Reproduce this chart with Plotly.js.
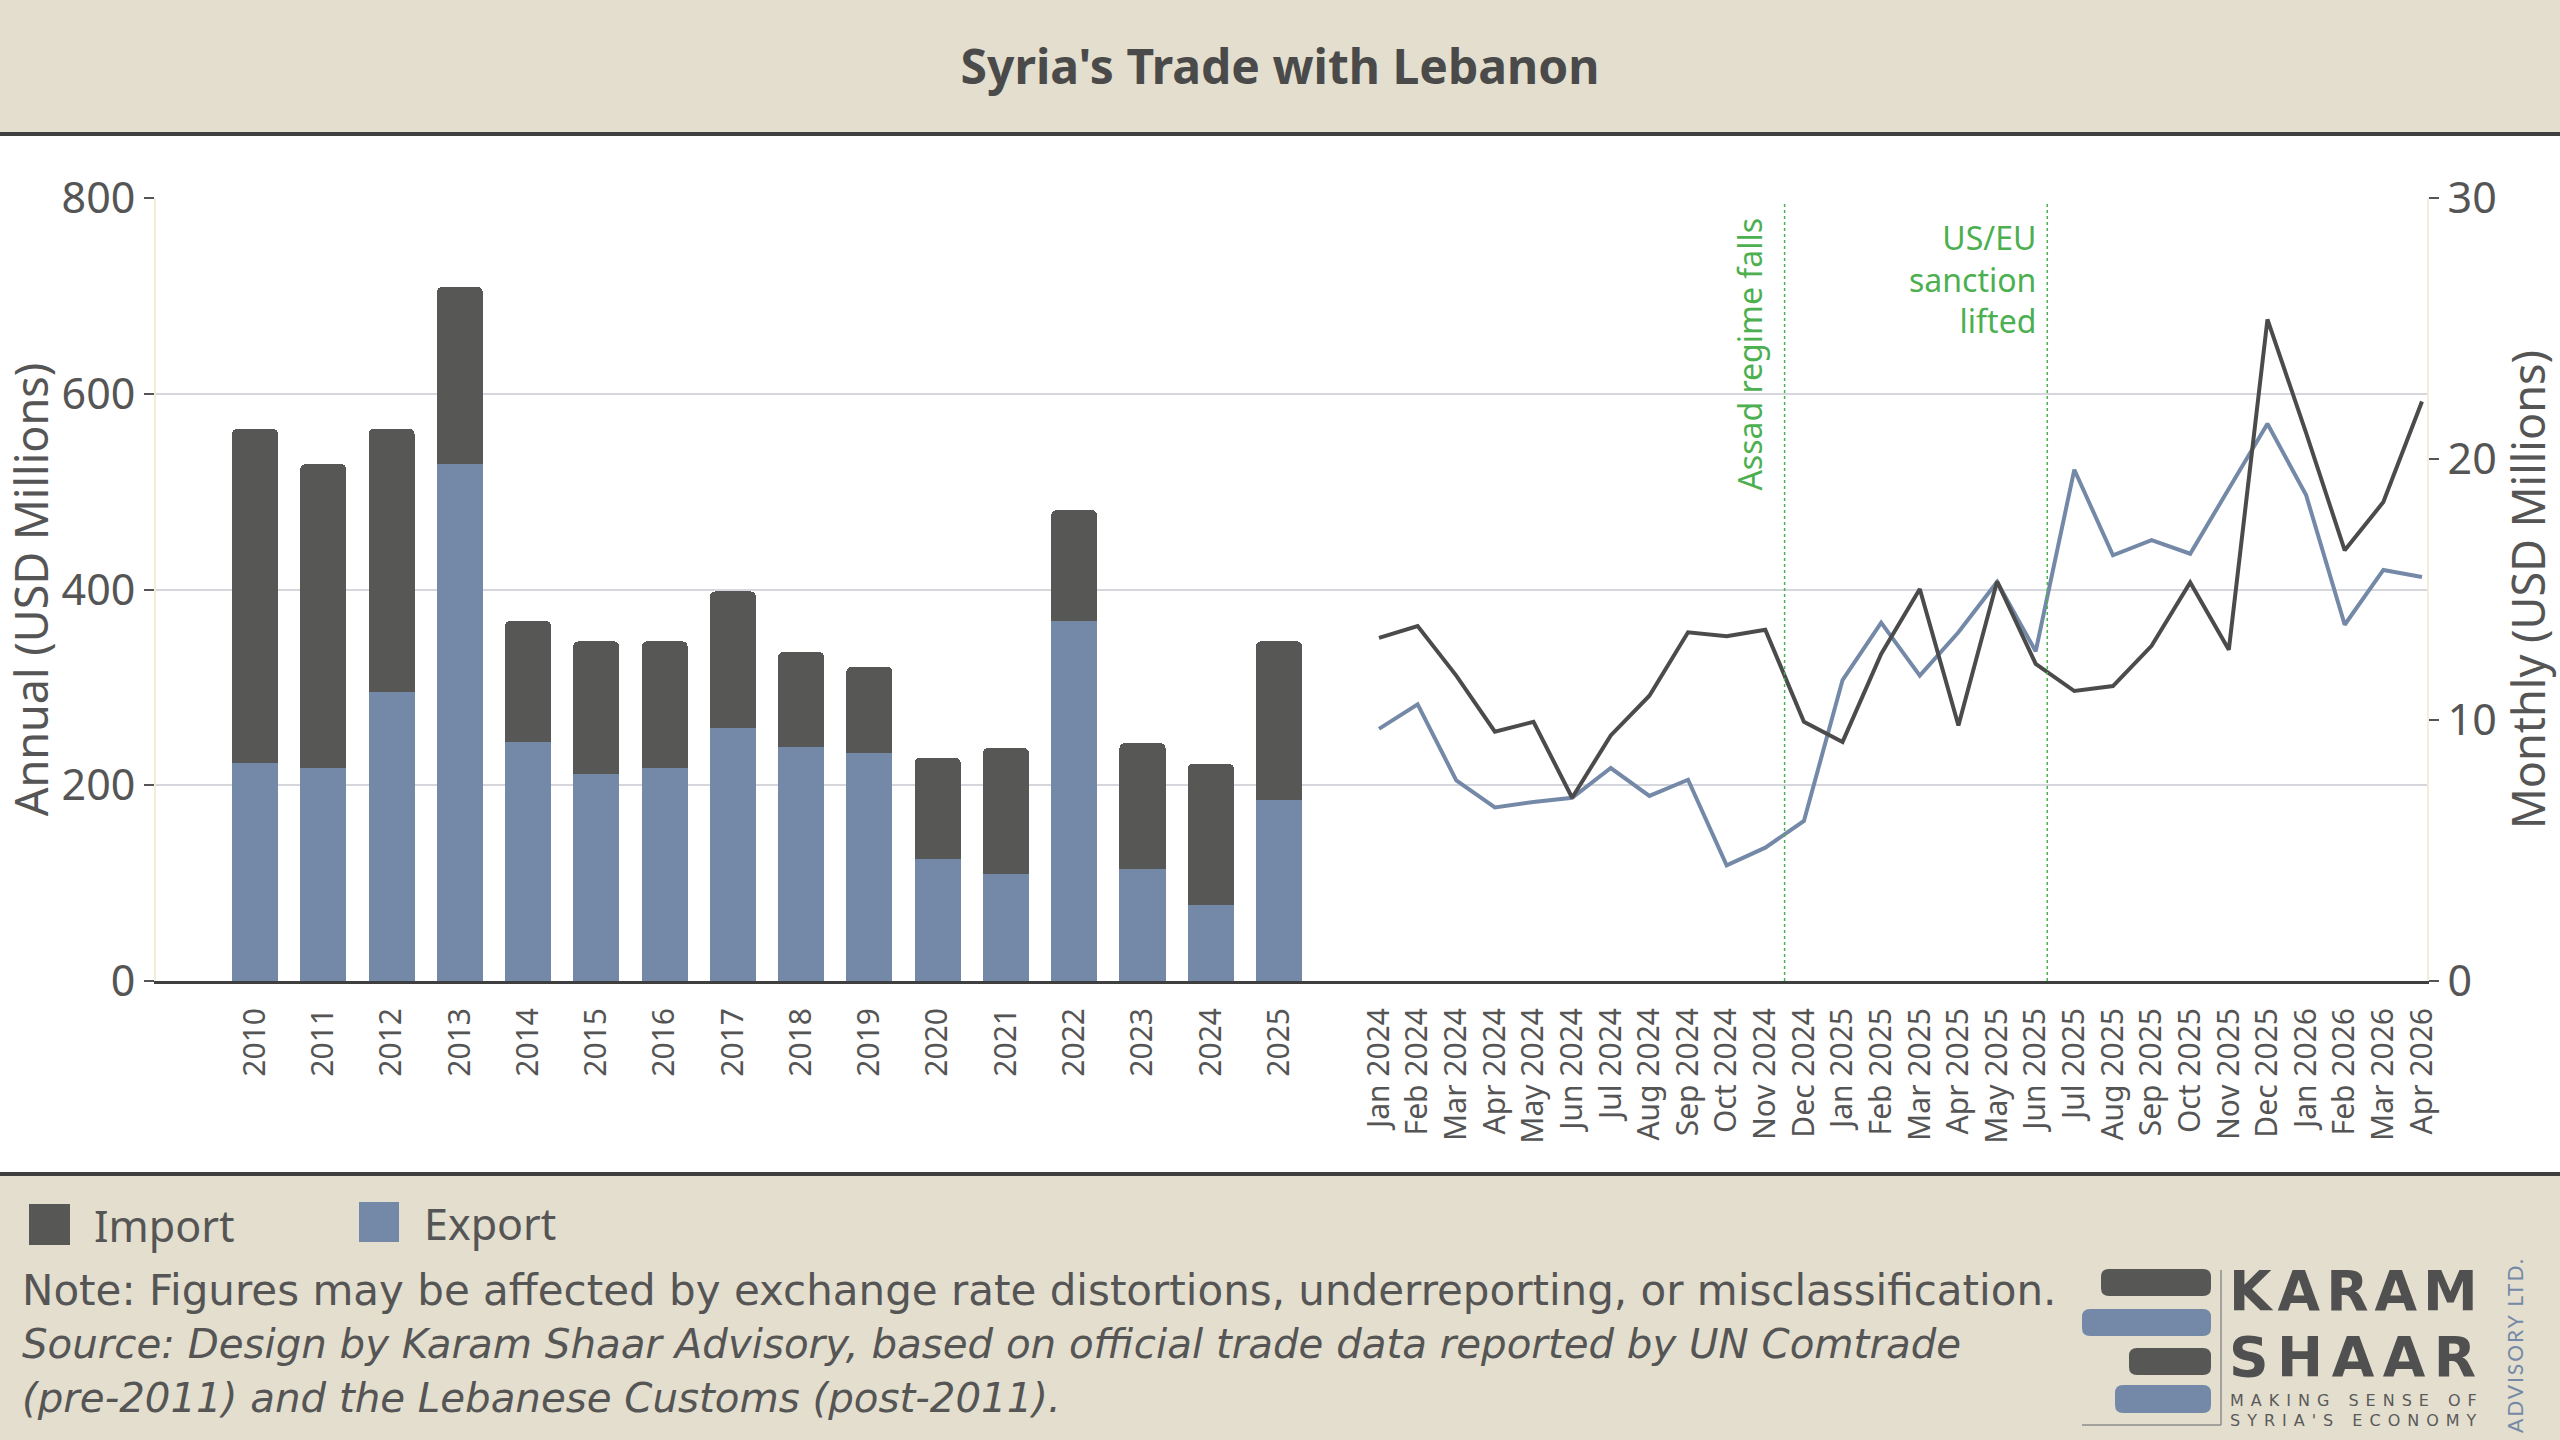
<!DOCTYPE html>
<html>
<head>
<meta charset="utf-8">
<script src="https://cdn.plot.ly/plotly-3.0.1.min.js"></script>
<style>
  html, body { margin: 0; padding: 0; background: #ffffff; }
  #chart { width: 2560px; height: 1440px; }
</style>
</head>
<body>
<div id="chart"></div>
<script>
// ---------------- DATA ----------------
const years = ['2010','2011','2012','2013','2014','2015','2016','2017','2018','2019','2020','2021','2022','2023','2024','2025'];
const annualExport = [223, 218, 295, 528, 244, 212, 218, 259, 239, 233, 125, 109, 368, 114, 78, 185];
const annualImport = [341, 310, 269, 181, 124, 135, 129, 139, 97, 88, 103, 129, 113, 129, 144, 162];

const months = ['Jan 2024','Feb 2024','Mar 2024','Apr 2024','May 2024','Jun 2024','Jul 2024','Aug 2024','Sep 2024','Oct 2024','Nov 2024','Dec 2024',
                'Jan 2025','Feb 2025','Mar 2025','Apr 2025','May 2025','Jun 2025','Jul 2025','Aug 2025','Sep 2025','Oct 2025','Nov 2025','Dec 2025',
                'Jan 2026','Feb 2026','Mar 2026','Apr 2026'];
const monthlyImport = [13.15, 13.6, 11.7, 9.55, 9.93, 7.02, 9.41, 10.93, 13.36, 13.21, 13.46, 9.93,
                       9.16, 12.53, 15.02, 9.79, 15.31, 12.15, 11.11, 11.3, 12.84, 15.27, 12.69, 25.35,
                       21.0, 16.5, 18.35, 22.2];
const monthlyExport = [9.66, 10.6, 7.69, 6.65, 6.86, 7.02, 8.16, 7.09, 7.71, 4.43, 5.11, 6.13,
                       11.53, 13.73, 11.7, 13.36, 15.29, 12.63, 19.59, 16.31, 16.89, 16.37, 18.86, 21.35,
                       18.62, 13.65, 15.75, 15.48];

const annualTicks = [0, 200, 400, 600, 800];
const monthlyTicks = [0, 10, 20, 30];

const events = [
  { month: 10.5, text: 'Assad regime falls' },
  { month: 17.3, text: 'US/EU<br>sanction<br>lifted' }
];

const noteText = 'Note: Figures may be affected by exchange rate distortions, underreporting, or misclassification.';
const sourceLines = ['Source: Design by Karam Shaar Advisory, based on official trade data reported by UN Comtrade',
                     '(pre-2011) and the Lebanese Customs (post-2011).'];

// ---------------- STYLE ----------------
const C_IMPORT = '#575756';
const C_EXPORT = '#7489a7';
const C_IMPORT_LINE = '#4b4b4b';
const C_BEIGE = '#e3decd';
const C_DARK = '#3f3f3f';
const C_TEXT = '#555555';
const C_GREEN = '#4caf50';
const C_GRID = '#d5d7dc';

const W = 2560, H = 1440;
const ML = 156, MR = 133, MT = 198, MB = 459;
const PW = W - ML - MR, PH = H - MT - MB;
const X = p => (p - ML) / PW;          // pixel -> paper x
const Y = p => (H - MB - p) / PH;      // pixel -> paper y
const split = X(1340);

function roundRect(x0, y0, x1, y1, r) {
  return `M${X(x0 + r)},${Y(y0)} L${X(x1 - r)},${Y(y0)} Q${X(x1)},${Y(y0)} ${X(x1)},${Y(y0 + r)} ` +
         `L${X(x1)},${Y(y1 - r)} Q${X(x1)},${Y(y1)} ${X(x1 - r)},${Y(y1)} ` +
         `L${X(x0 + r)},${Y(y1)} Q${X(x0)},${Y(y1)} ${X(x0)},${Y(y1 - r)} ` +
         `L${X(x0)},${Y(y0 + r)} Q${X(x0)},${Y(y0)} ${X(x0 + r)},${Y(y0)} Z`;
}

// ---------------- TRACES ----------------
const traces = [
  { type: 'bar', name: 'Export', x: years, y: annualExport, xaxis: 'x', yaxis: 'y',
    marker: { color: C_EXPORT, line: { width: 0 } } },
  { type: 'bar', name: 'Import', x: years, y: annualImport, xaxis: 'x', yaxis: 'y',
    marker: { color: C_IMPORT, line: { width: 0 } } },
  { type: 'scatter', mode: 'lines', name: 'Export (monthly)', x: months, y: monthlyExport,
    xaxis: 'x2', yaxis: 'y2', line: { color: C_EXPORT, width: 4 } },
  { type: 'scatter', mode: 'lines', name: 'Import (monthly)', x: months, y: monthlyImport,
    xaxis: 'x2', yaxis: 'y2', line: { color: C_IMPORT_LINE, width: 4 } }
];

// ---------------- SHAPES ----------------
const shapes = [
  // header band
  { type: 'rect', xref: 'paper', yref: 'paper', x0: X(0), x1: X(W), y0: Y(132), y1: Y(0),
    fillcolor: C_BEIGE, line: { width: 0 }, layer: 'below' },
  { type: 'line', xref: 'paper', yref: 'paper', x0: X(0), x1: X(W), y0: Y(134), y1: Y(134),
    line: { color: C_DARK, width: 4 } },
  // footer band
  { type: 'rect', xref: 'paper', yref: 'paper', x0: X(0), x1: X(W), y0: Y(H), y1: Y(1174),
    fillcolor: C_BEIGE, line: { width: 0 }, layer: 'below' },
  { type: 'line', xref: 'paper', yref: 'paper', x0: X(0), x1: X(W), y0: Y(1174), y1: Y(1174),
    line: { color: C_DARK, width: 4 } },
  // legend swatches
  { type: 'rect', xref: 'paper', yref: 'paper', x0: X(29), x1: X(70), y0: Y(1245), y1: Y(1204),
    fillcolor: C_IMPORT, line: { width: 0 } },
  { type: 'rect', xref: 'paper', yref: 'paper', x0: X(359), x1: X(399), y0: Y(1242), y1: Y(1202),
    fillcolor: C_EXPORT, line: { width: 0 } },
  // logo bars
  { type: 'path', xref: 'paper', yref: 'paper', path: roundRect(2101, 1269, 2211, 1296, 8), fillcolor: C_IMPORT, line: { width: 0 } },
  { type: 'path', xref: 'paper', yref: 'paper', path: roundRect(2082, 1309, 2211, 1336, 8), fillcolor: C_EXPORT, line: { width: 0 } },
  { type: 'path', xref: 'paper', yref: 'paper', path: roundRect(2129, 1348, 2211, 1375, 8), fillcolor: C_IMPORT, line: { width: 0 } },
  { type: 'path', xref: 'paper', yref: 'paper', path: roundRect(2115, 1385, 2211, 1413, 8), fillcolor: C_EXPORT, line: { width: 0 } },
  { type: 'line', xref: 'paper', yref: 'paper', x0: X(2221), x1: X(2221), y0: Y(1270), y1: Y(1425),
    line: { color: '#8c8c8c', width: 1.5 } },
  { type: 'line', xref: 'paper', yref: 'paper', x0: X(2082), x1: X(2221), y0: Y(1425), y1: Y(1425),
    line: { color: '#8c8c8c', width: 1.5 } }
];
events.forEach(e => shapes.push({
  type: 'line', xref: 'x2', yref: 'y2 domain', x0: e.month, x1: e.month, y0: 0, y1: 0.995,
  line: { color: C_GREEN, width: 1.5, dash: 'dot' }
}));

// ---------------- ANNOTATIONS ----------------
const annotations = [
  { xref: 'x2', yref: 'paper', x: events[0].month, xanchor: 'right', xshift: -12, y: Y(216), yanchor: 'top',
    text: events[0].text, textangle: -90, showarrow: false,
    font: { family: 'Noto Sans', size: 32, color: C_GREEN } },
  { xref: 'x2', yref: 'paper', x: events[1].month, xanchor: 'right', xshift: -9, y: Y(214), yanchor: 'top',
    text: events[1].text, align: 'right', showarrow: false,
    font: { family: 'Noto Sans', size: 32, color: C_GREEN } },
  // legend labels
  { xref: 'paper', yref: 'paper', x: X(92), xanchor: 'left', y: Y(1225), yanchor: 'middle',
    text: 'Import', showarrow: false, font: { family: 'Noto Sans', size: 43, color: C_TEXT } },
  { xref: 'paper', yref: 'paper', x: X(422), xanchor: 'left', y: Y(1223), yanchor: 'middle',
    text: 'Export', showarrow: false, font: { family: 'Noto Sans', size: 43, color: C_TEXT } },
  // note + source (one text block, tight line spacing as in the reference)
  { xref: 'paper', yref: 'paper', x: X(20), xanchor: 'left', y: Y(1344), yanchor: 'middle', align: 'left',
    text: `<span style="font-size:42px">${noteText}</span><br>` +
          `<span style="font-size:40.3px"><i>${sourceLines[0]}</i></span><br>` +
          `<span style="font-size:40.3px"><i>${sourceLines[1]}</i></span>`,
    showarrow: false, font: { family: 'DejaVu Sans', size: 41, color: C_TEXT } },
  // logo text
  { xref: 'paper', yref: 'paper', x: X(2227), xanchor: 'left', y: Y(1291), yanchor: 'middle',
    text: '<span style="letter-spacing:6px">KARAM</span>', showarrow: false,
    font: { family: 'DejaVu Sans', size: 55, weight: 700, color: '#505050' } },
  { xref: 'paper', yref: 'paper', x: X(2227), xanchor: 'left', y: Y(1357), yanchor: 'middle',
    text: '<span style="letter-spacing:8.5px">SHAAR</span>', showarrow: false,
    font: { family: 'DejaVu Sans', size: 55, weight: 700, color: '#505050' } },
  { xref: 'paper', yref: 'paper', x: X(2228), xanchor: 'left', y: Y(1400.5), yanchor: 'middle',
    text: '<span style="letter-spacing:7px">MAKING SENSE OF</span>', showarrow: false,
    font: { family: 'DejaVu Sans', size: 16, color: '#5a5a5a' } },
  { xref: 'paper', yref: 'paper', x: X(2228), xanchor: 'left', y: Y(1420.5), yanchor: 'middle',
    text: '<span style="letter-spacing:7px">SYRIA\'S ECONOMY</span>', showarrow: false,
    font: { family: 'DejaVu Sans', size: 16, color: '#5a5a5a' } },
  { xref: 'paper', yref: 'paper', x: X(2514), xanchor: 'center', y: Y(1345), yanchor: 'middle',
    text: '<span style="letter-spacing:2px">ADVISORY LTD.</span>', textangle: -90, showarrow: false,
    font: { family: 'Lato', size: 21, color: C_EXPORT } }
];

// ---------------- LAYOUT ----------------
const xCommon = {
  type: 'category', showline: true, linecolor: C_DARK, linewidth: 3, ticks: '',
  tickangle: -90, tickfont: { family: 'Noto Sans', size: 30, color: C_TEXT },
  showgrid: false, zeroline: false, ticklabelstandoff: 12, fixedrange: true
};
const yTick = { family: 'Noto Sans', size: 43, color: C_TEXT };

const layout = {
  width: W, height: H,
  margin: { l: ML, r: MR, t: MT, b: MB, pad: 0 },
  paper_bgcolor: '#ffffff', plot_bgcolor: 'rgba(0,0,0,0)',
  font: { family: 'Noto Sans', color: C_TEXT },
  barmode: 'stack', bargap: 0.326, barcornerradius: 5,
  showlegend: false, hovermode: false,
  title: {
    text: "Syria's Trade with Lebanon",
    font: { family: 'Noto Sans', size: 48, weight: 700, color: '#4a4a4a' },
    x: 0.5, xanchor: 'center', xref: 'container',
    y: 1 - 67 / H, yanchor: 'middle', yref: 'container'
  },
  xaxis: Object.assign({}, xCommon, { domain: [0, split], range: [-1.45, 15.893], anchor: 'y' }),
  xaxis2: Object.assign({}, xCommon, { domain: [split, 1], range: [-1.0096, 27.13], anchor: 'y2' }),
  yaxis: {
    range: [0, 800], tickmode: 'array', tickvals: annualTicks, anchor: 'x', side: 'left',
    ticks: 'outside', ticklen: 10, tickwidth: 2, tickcolor: C_TEXT, tickfont: yTick,
    showgrid: true, gridcolor: C_GRID, gridwidth: 2, zeroline: false,
    showline: true, linecolor: '#f3edd9', linewidth: 2, fixedrange: true,
    title: { text: 'Annual (USD Millions)', font: { family: 'Noto Sans', size: 45, color: C_TEXT }, standoff: 6 }
  },
  yaxis2: {
    range: [0, 30], tickmode: 'array', tickvals: monthlyTicks, anchor: 'x2', side: 'right',
    ticks: 'outside', ticklen: 10, tickwidth: 2, tickcolor: C_TEXT, tickfont: yTick,
    showgrid: false, zeroline: false,
    minor: { tickmode: 'array', tickvals: annualTicks.map(v => v * 30 / 800), showgrid: true,
             gridcolor: C_GRID, gridwidth: 2, ticks: '' },
    showline: true, linecolor: '#f3edd9', linewidth: 2, fixedrange: true,
    title: { text: 'Monthly (USD Millions)', font: { family: 'Noto Sans', size: 45, color: C_TEXT }, standoff: 6 }
  },
  shapes: shapes,
  annotations: annotations
};

Plotly.newPlot('chart', traces, layout, { displayModeBar: false, staticPlot: true });
</script>
</body>
</html>
